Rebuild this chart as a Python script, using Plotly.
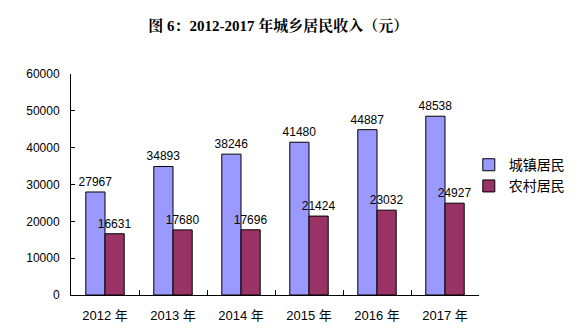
import plotly.graph_objects as go

categories = ["2012 年", "2013 年", "2014 年", "2015 年", "2016 年", "2017 年"]
urban = [27967, 34893, 38246, 41480, 44887, 48538]
rural = [16631, 17680, 17696, 21424, 23032, 24927]
series_names = ["城镇居民", "农村居民"]
y_ticks = [0, 10000, 20000, 30000, 40000, 50000, 60000]

num_font = "Liberation Sans, Arial, sans-serif"
cjk_font = "Liberation Sans, Noto Sans CJK SC, sans-serif"

fig = go.Figure()
fig.add_trace(go.Bar(
    x=categories, y=urban, name=series_names[0],
    marker=dict(color="#9999FF", line=dict(color="black", width=1)),
    text=[str(v) for v in urban], textposition="outside", constraintext="none",
    textfont=dict(family=num_font, size=12, color="black"),
    cliponaxis=False,
))
fig.add_trace(go.Bar(
    x=categories, y=rural, name=series_names[1],
    marker=dict(color="#993366", line=dict(color="black", width=1)),
    text=[str(v) for v in rural], textposition="outside", constraintext="none",
    textfont=dict(family=num_font, size=12, color="black"),
    cliponaxis=False,
))

fig.update_layout(
    width=582, height=335,
    margin=dict(l=71, r=81, t=74, b=38),
    paper_bgcolor="white", plot_bgcolor="white",
    barmode="group", bargap=0.435, bargroupgap=0,
    title=dict(
        text="<b>图 6：2012-2017 年城乡居民收入（元）</b>",
        x=0.478, xanchor="center", y=0.922, yanchor="middle",
        font=dict(family="Liberation Serif, Noto Serif CJK SC, Noto Sans CJK SC, serif", size=15, color="black"),
    ),
    showlegend=True,
    legend=dict(
        x=0.975, y=0.66, xanchor="left", yanchor="top",
        font=dict(family="Noto Sans CJK SC, sans-serif", size=14, color="black"),
        bgcolor="rgba(0,0,0,0)", tracegroupgap=0, itemwidth=30,
    ),
)
fig.update_xaxes(
    type="category", showline=True, linecolor="black", linewidth=1,
    ticks="inside", tickson="boundaries", ticklen=5, tickcolor="black",
    tickfont=dict(family=cjk_font, size=13, color="black"),
    showgrid=False, zeroline=False, ticklabelstandoff=8,
)
fig.update_yaxes(
    range=[0, 60000], tickvals=y_ticks, ticktext=[str(v) for v in y_ticks],
    showline=True, linecolor="black", linewidth=1,
    ticks="inside", ticklen=4, tickcolor="black",
    tickfont=dict(family=num_font, size=12, color="black"),
    showgrid=False, zeroline=False, ticklabelstandoff=8,
)
fig.write_html("out.html")
